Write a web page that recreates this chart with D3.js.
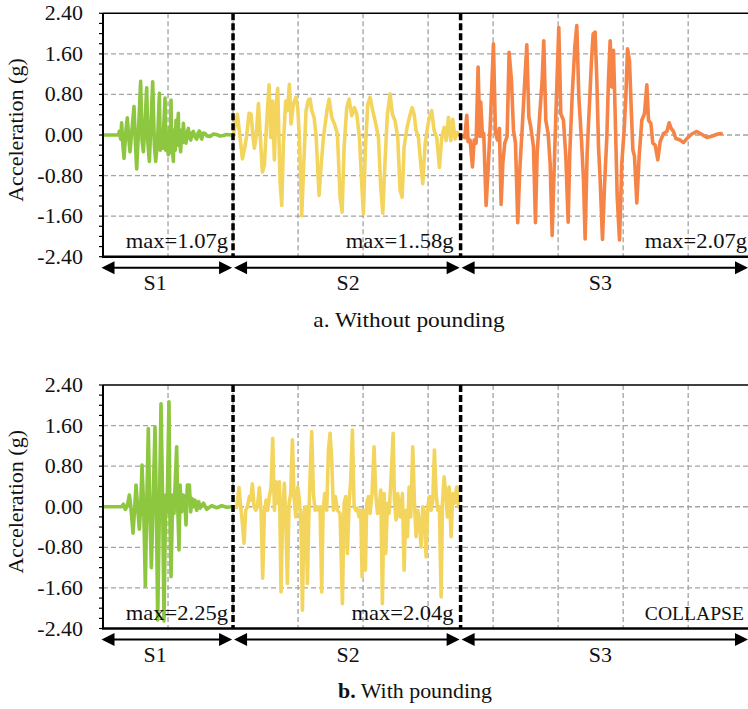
<!DOCTYPE html>
<html><head><meta charset="utf-8">
<script src="https://cdn.jsdelivr.net/npm/d3@7/dist/d3.min.js"></script>
<style>
html,body{margin:0;padding:0;background:#fff;}
svg{display:block;}
text{font-family:"Liberation Serif","Times New Roman",serif;fill:#111;}
</style></head>
<body>
<svg id="chart" width="748" height="709"></svg>
<script>
// ---------- DATA (time in grid units, acceleration in g) ----------
const yTicks = [-2.4, -1.6, -0.8, 0, 0.8, 1.6, 2.4];
const xGridTicks = [1, 2, 3, 4, 5, 6, 7, 8, 9];
const stageNames = ["S1", "S2", "S3"];
const stageBounds = [0, 2, 5.5, 9.92];
const maxLabelsA = ["max=1.07g", "max=1..58g", "max=2.07g"];
const maxLabelsB = ["max=2.25g", "max=2.04g", "COLLAPSE"];
const stageColors = ["#8dc63f", "#f3d55e", "#f58446"];

// Panel a – without pounding
const aS1 = [[0.005,0],[0.236,0],[0.251,0.07],[0.272,-0.08],[0.287,0.24],[0.30,-0.1],[0.323,-0.46],[0.35,0.05],[0.374,0.34],[0.395,-0.05],[0.415,-0.33],
 [0.445,0.1],[0.477,0.56],[0.50,-0.2],[0.518,-0.67],[0.55,0.2],[0.579,1.06],[0.60,-0.1],[0.621,-0.33],[0.645,0.2],[0.672,0.93],[0.69,-0.15],[0.713,-0.52],[0.74,0.3],[0.764,1.05],[0.79,-0.2],[0.810,-0.52],
 [0.84,-0.1],[0.867,0.82],[0.88,-0.3],[0.895,-0.1],[0.918,-0.26],[0.935,0.2],[0.954,0.73],[0.965,-0.3],[0.98,-0.15],[1.005,-0.39],[1.015,0.05],[1.025,0.15],[1.035,-0.35],[1.046,0.69],[1.055,-0.25],[1.065,-0.2],
 [1.082,-0.52],[1.09,0.05],[1.10,0.1],[1.11,-0.3],[1.123,0.29],[1.13,-0.2],[1.14,0.05],[1.159,0.43],[1.165,-0.2],[1.175,-0.1],[1.195,-0.33],[1.205,0.05],[1.215,0.1],[1.225,-0.15],[1.236,0.23],[1.255,-0.1],[1.277,-0.16],[1.295,0.05],[1.313,0.13],
 [1.33,-0.05],[1.349,-0.10],[1.37,0.04],[1.390,0.07],[1.415,-0.04],[1.441,-0.08],[1.46,0.03],[1.482,0.08],[1.50,-0.03],[1.518,-0.08],[1.54,0.04],[1.569,0.03],[1.60,-0.02],[1.646,-0.03],[1.70,0.02],[1.749,0.01],
 [1.80,-0.02],[1.851,-0.01],[1.90,0.01],[1.979,0]];
const aS2 = [[2.005,0],[2.067,0.41],[2.108,-0.05],[2.144,-0.47],[2.185,-0.21],[2.210,-0.01],[2.246,0.43],[2.277,0.41],
 [2.303,0.02],[2.328,-0.26],[2.354,-0.05],[2.390,0.62],[2.426,-0.18],[2.451,-0.73],[2.482,-0.60],[2.518,0.28],[2.554,0.99],
 [2.579,-0.05],[2.605,0.67],[2.636,-0.49],[2.662,0.61],[2.687,0.92],[2.723,-0.90],[2.749,-1.39],[2.774,-0.18],[2.810,0.67],
 [2.836,0.48],[2.867,1.00],[2.892,0.22],[2.928,0.61],[2.964,0.74],[2.995,0.54],[3.021,-0.05],[3.056,-1.59],[3.092,-0.44],
 [3.123,0.48],[3.159,0.69],[3.185,0.71],[3.210,0.48],[3.246,0.35],[3.277,-0.01],[3.323,-1.19],[3.349,-0.70],[3.390,-0.05],
 [3.441,0.45],[3.477,0.71],[3.518,0.35],[3.559,0.22],[3.605,0.02],[3.646,-1.23],[3.677,-1.52],[3.708,-0.24],[3.749,0.54],
 [3.785,0.71],[3.826,0.38],[3.867,0.54],[3.903,0.41],[3.944,-0.05],[3.979,-0.96],[4.005,-1.55],[4.036,-0.24],[4.072,0.61],
 [4.108,0.74],[4.149,0.48],[4.195,0.22],[4.236,-0.05],[4.272,-1.03],[4.303,-1.54],[4.338,-0.50],[4.374,0.41],[4.415,0.81],
 [4.451,0.41],[4.492,0.28],[4.533,-0.05],[4.569,-1.09],[4.600,-1.23],[4.631,-0.24],[4.672,0.12],[4.713,0.35],[4.754,0.54],
 [4.785,0.41],[4.815,0.09],[4.851,-0.05],[4.887,-0.57],[4.918,-0.96],[4.954,-0.18],[4.990,0.15],[5.021,0.35],[5.056,0.48],
 [5.092,0.09],[5.133,-0.05],[5.174,-0.64],[5.210,-0.05],[5.246,0.15],[5.277,-0.11],[5.313,0.35],[5.349,-0.11],[5.379,0.31],
 [5.415,-0.08],[5.451,0.05],[5.492,-0.01]];
const aS3 = [[5.487,0],[5.538,-0.03],[5.564,-0.05],[5.595,0.39],[5.615,-0.13],[5.646,-0.10],[5.682,-0.63],[5.708,-0.10],
 [5.738,-0.16],[5.769,1.34],[5.795,-0.03],[5.810,0.65],[5.836,-0.03],[5.856,0.03],[5.892,-1.39],[5.923,-0.69],[5.959,0.29],
 [6.005,1.80],[6.036,0.03],[6.067,-0.10],[6.097,0.13],[6.123,-1.37],[6.149,-0.56],[6.179,-0.16],[6.215,-0.03],[6.246,1.63],
 [6.282,1.08],[6.313,0.10],[6.344,-0.16],[6.379,-1.73],[6.410,-0.69],[6.446,0.10],[6.487,1.08],[6.518,1.78],[6.549,0.36],
 [6.579,0.16],[6.621,-0.23],[6.651,-1.73],[6.677,-0.36],[6.718,0.42],[6.754,1.08],[6.779,1.86],[6.810,0.29],[6.846,0.03],
 [6.877,-0.56],[6.908,-1.98],[6.938,-0.69],[6.974,0.75],[7.010,2.12],[7.041,0.42],[7.082,0.29],[7.118,-0.42],[7.154,-1.72],
 [7.179,-0.36],[7.215,0.75],[7.256,1.73],[7.287,2.16],[7.318,0.75],[7.359,-0.10],[7.390,-0.88],[7.415,-2.05],[7.446,-0.36],
 [7.487,0.75],[7.513,1.47],[7.538,1.99],[7.569,2.03],[7.595,1.08],[7.621,-0.23],[7.646,-0.88],[7.682,-2.06],[7.713,-1.01],
 [7.749,-0.03],[7.774,1.08],[7.800,1.86],[7.826,0.95],[7.851,1.67],[7.877,0.42],[7.908,-1.21],[7.944,-2.07],[7.979,-0.56],
 [8.015,0.10],[8.041,0.75],[8.067,1.70],[8.097,1.47],[8.123,0.56],[8.149,-0.29],[8.174,-0.42],[8.210,-1.34],[8.246,-0.42],
 [8.287,0.29],[8.328,0.42],[8.364,0.99],[8.390,0.29],[8.426,0.23],[8.456,-0.16],[8.492,-0.20],[8.533,-0.49],[8.569,-0.13],
 [8.621,0.03],[8.672,0.07],[8.708,0.24],[8.738,0.13],[8.774,0.07],[8.810,-0.07],[8.877,-0.10],[8.928,-0.15],[8.979,-0.07],
 [9.056,0.02],[9.133,0.07],[9.200,0.02],[9.287,-0.05],[9.374,-0.02],[9.456,0.02],[9.508,0.03]];

// Panel b – with pounding
const bS1 = [[0.005,0],[0.287,0],[0.313,0.05],[0.344,-0.05],[0.374,0.02],[0.405,0.23],[0.426,0.03],[0.462,-0.52],
 [0.487,-0.03],[0.508,0.43],[0.533,-0.02],[0.559,-0.44],[0.579,-0.03],[0.600,0.82],[0.626,-0.03],[0.651,-1.57],[0.672,-0.03],
 [0.697,1.54],[0.718,0.03],[0.744,-1.20],[0.769,0.03],[0.800,1.57],[0.821,-0.10],[0.841,-2.23],[0.867,-0.10],[0.892,2.03],
 [0.918,0.03],[0.938,-2.25],[0.964,0.23],[0.985,-0.10],[1.015,2.07],[1.026,0.16],[1.046,-1.38],[1.072,0.23],[1.092,-0.13],
 [1.133,1.18],[1.149,0.03],[1.169,-0.85],[1.185,0.43],[1.210,-0.10],[1.236,0.23],[1.262,0.03],[1.277,-0.36],[1.297,0.43],
 [1.328,0.43],[1.349,-0.10],[1.369,0.16],[1.390,0],[1.415,0.13],[1.441,-0.07],[1.472,0.10],[1.492,-0.03],[1.544,0.07],
 [1.595,-0.05],[1.672,0.02],[1.749,-0.02],[1.826,0.02],[1.903,-0.01],[1.979,0]];
const bS2 = [[2.005,0],[2.056,-0.01],[2.092,0.38],[2.118,0],[2.144,-0.33],[2.169,-0.72],[2.195,-0.07],[2.221,0],[2.251,0.20],
 [2.272,0.13],[2.297,0.45],[2.323,0],[2.349,-0.07],[2.374,0],[2.405,0.38],[2.431,-0.07],[2.456,-1.41],[2.482,-0.13],[2.508,0.13],
 [2.533,-0.07],[2.559,0.20],[2.585,0.39],[2.610,1.35],[2.636,-0.07],[2.662,0.49],[2.687,0.07],[2.713,0.49],[2.738,-1.68],
 [2.764,0],[2.790,0.46],[2.810,-0.26],[2.836,-1.51],[2.862,0.07],[2.887,0.26],[2.913,1.32],[2.938,0.20],[2.964,-0.20],
 [2.995,0.39],[3.021,0.13],[3.046,-0.39],[3.067,-2.04],[3.092,-0.07],[3.118,0],[3.144,-1.51],[3.164,-0.26],[3.185,0.59],
 [3.210,1.48],[3.236,0.26],[3.262,-0.07],[3.287,0],[3.313,-0.07],[3.338,0],[3.364,-1.68],[3.385,-0.07],[3.410,0.26],
 [3.441,-0.07],[3.467,1.12],[3.492,1.45],[3.518,0.92],[3.544,-0.07],[3.574,0.20],[3.605,-0.07],[3.646,-0.13],[3.682,-1.91],
 [3.708,0.07],[3.733,0.20],[3.759,-0.92],[3.785,0.07],[3.810,0.53],[3.836,1.51],[3.862,0],[3.887,-0.07],[3.913,-0.03],
 [3.938,-0.20],[3.964,-0.07],[3.985,-1.38],[4.010,-0.07],[4.036,-1.25],[4.056,0.07],[4.082,0.20],[4.108,-0.13],[4.138,0.26],
 [4.169,1.18],[4.195,0.26],[4.221,-0.13],[4.246,-0.07],[4.272,0.33],[4.297,-1.91],[4.323,0.26],[4.349,-0.92],[4.374,0.07],
 [4.400,-0.13],[4.431,0.59],[4.462,1.45],[4.482,0.13],[4.508,-0.26],[4.533,0.26],[4.569,-0.20],[4.605,0.26],[4.631,-1.25],
 [4.656,-0.07],[4.682,-0.59],[4.708,0.39],[4.733,-0.20],[4.764,1.18],[4.790,0.07],[4.815,-0.59],[4.841,-0.07],[4.867,-0.33],
 [4.892,-0.79],[4.918,0],[4.944,-0.13],[4.969,-0.99],[4.995,0],[5.021,0.20],[5.046,-0.07],[5.072,0.13],[5.097,1.12],
 [5.123,0.26],[5.149,-0.07],[5.174,0],[5.200,-1.78],[5.221,0.07],[5.246,0.59],[5.272,0.26],[5.297,-0.20],[5.323,0.39],
 [5.354,-0.59],[5.379,0.26],[5.405,0.07],[5.441,0.39],[5.467,0],[5.492,0]];

// ---------- LAYOUT ----------
const svg = d3.select("#chart");
const plotLeft = 103, plotRight = 748;
const panels = [
  {top: 13.3, bottom: 256.7, series: [aS1, aS2, aS3], labels: maxLabelsA, yLabelDy: -5},
  {top: 385, bottom: 628.5, series: [bS1, bS2], labels: maxLabelsB, yLabelDy: -5}
];
const x = d3.scaleLinear().domain([stageBounds[0], stageBounds[3]]).range([plotLeft, plotRight]);
const fmt = d3.formatLocale({decimal: ".", thousands: ",", grouping: [3], currency: ["", ""], minus: "-"}).format(".2f");
const FS = 20.5, SX = 1.07;

function sText(g, xp, yp, str, anchor, size, sx) {
  return g.append("text")
    .attr("transform", `translate(${xp},${yp}) scale(${sx || SX},1)`)
    .attr("text-anchor", anchor)
    .style("font-size", (size || FS) + "px")
    .text(str);
}

panels.forEach((p, pi) => {
  const g = svg.append("g");
  const y = d3.scaleLinear().domain([yTicks[0], yTicks[yTicks.length - 1]]).range([p.bottom, p.top]);

  // grid
  g.append("g").selectAll("line").data(yTicks.slice(1, -1)).join("line")
    .attr("x1", plotLeft).attr("x2", plotRight).attr("y1", d => y(d)).attr("y2", d => y(d))
    .attr("stroke", "#a3a3a3").attr("stroke-width", 1.3).attr("stroke-dasharray", "5,3");
  g.append("g").selectAll("line").data(xGridTicks).join("line")
    .attr("x1", d => x(d)).attr("x2", d => x(d)).attr("y1", p.top).attr("y2", p.bottom)
    .attr("stroke", "#a3a3a3").attr("stroke-width", 1.3).attr("stroke-dasharray", "5,3");

  // series
  const line = d3.line().x(d => x(d[0])).y(d => y(d[1]));
  p.series.forEach((s, i) => {
    g.append("path").datum(s).attr("d", line).attr("fill", "none")
      .attr("stroke", stageColors[i]).attr("stroke-width", 3.6)
      .attr("stroke-linejoin", "round").attr("stroke-linecap", "round");
  });

  // stage dividers
  g.append("g").selectAll("line").data(stageBounds.slice(1, 3)).join("line")
    .attr("x1", d => x(d)).attr("x2", d => x(d)).attr("y1", p.top).attr("y2", p.bottom)
    .attr("stroke", "#000").attr("stroke-width", 3.5).attr("stroke-dasharray", "7,3");

  // frame: top border and bottom axis
  g.append("line").attr("x1", plotLeft).attr("x2", plotRight).attr("y1", p.top).attr("y2", p.top)
    .attr("stroke", "#000").attr("stroke-width", 1.5);
  g.append("line").attr("x1", plotLeft - 1).attr("x2", plotRight).attr("y1", p.bottom).attr("y2", p.bottom)
    .attr("stroke", "#000").attr("stroke-width", 2.4);

  // y axis
  const minor = d3.range(-2.4, 2.41, 0.2);
  const yAxis = g.append("g").attr("transform", `translate(${plotLeft},0)`);
  yAxis.append("line").attr("x1", 0).attr("x2", 0).attr("y1", p.top).attr("y2", p.bottom)
    .attr("stroke", "#000").attr("stroke-width", 2);
  yAxis.selectAll("line.mt").data(minor).join("line").attr("class", "mt")
    .attr("x1", -4).attr("x2", 0).attr("y1", d => y(d)).attr("y2", d => y(d))
    .attr("stroke", "#000").attr("stroke-width", 1.2);
  yTicks.forEach(v => sText(yAxis, -20, y(v) + 7, fmt(v), "end"));

  // y label
  const cy = (p.top + p.bottom) / 2 + p.yLabelDy;
  svg.append("text").attr("transform", `translate(23,${cy}) rotate(-90)`)
    .attr("text-anchor", "middle").style("font-size", "22px").text("Acceleration (g)");

  // max labels
  const ends = [x(stageBounds[1]) - 5, x(stageBounds[2]) - 7, plotRight - 1];
  p.labels.forEach((l, i) => {
    if (l === "COLLAPSE") sText(g, ends[i] - 3, p.bottom - 9, l, "end", 18, 1.09);
    else sText(g, ends[i], p.bottom - 9, l, "end", FS, 1.1);
  });

  // stage arrows
  const ay = p.bottom + 11;
  const ag = g.append("g");
  for (let i = 0; i < 3; i++) {
    const x1 = x(stageBounds[i]) + (i === 0 ? -1.5 : 1), x2 = x(stageBounds[i + 1]) - (i < 2 ? 1 : 0);
    ag.append("line").attr("x1", x1 + 8).attr("x2", x2 - 8).attr("y1", ay).attr("y2", ay)
      .attr("stroke", "#000").attr("stroke-width", 2);
    ag.append("path").attr("d", `M${x1},${ay}L${x1 + 13},${ay - 6.5}L${x1 + 13},${ay + 6.5}Z`).attr("fill", "#000");
    ag.append("path").attr("d", `M${x2},${ay}L${x2 - 13},${ay - 6.5}L${x2 - 13},${ay + 6.5}Z`).attr("fill", "#000");
  }
  const labelX = [x(0.8), x(3.77), x(7.65)];
  stageNames.forEach((s, i) => sText(g, labelX[i], p.bottom + 33, s, "middle"));
});

// panel titles
const tA = svg.append("text").attr("transform", `translate(409,327) scale(1.14,1)`).attr("text-anchor", "middle")
  .style("font-size", FS + "px");
tA.append("tspan").text("a. Without pounding");
const tB = svg.append("text").attr("transform", `translate(415,698) scale(1.07,1)`).attr("text-anchor", "middle")
  .style("font-size", FS + "px");
tB.append("tspan").style("font-weight", "bold").text("b.");
tB.append("tspan").text(" With pounding");
</script>
</body></html>
